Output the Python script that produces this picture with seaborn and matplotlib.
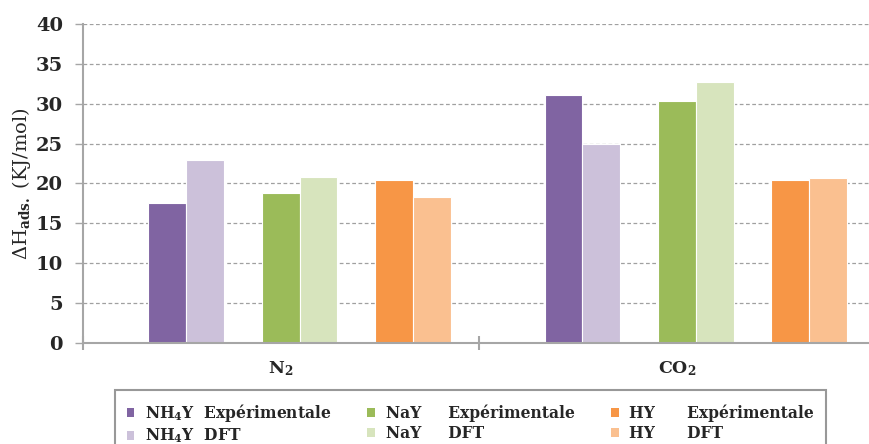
import matplotlib.pyplot as plt
import seaborn as sns
import pandas as pd
import numpy as np
from matplotlib.patches import Patch

# values (kJ/mol)
gases = ["N$_2$", "CO$_2$"]
nh4y_exp = [17.6, 31.1]
nh4y_dft = [23.0, 25.0]
nay_exp = [18.8, 30.3]
nay_dft = [20.8, 32.7]
hy_exp = [20.4, 20.4]
hy_dft = [18.3, 20.7]

series = ["NH$_4$Y  Expérimentale", "NH$_4$Y  DFT",
          "NaY     Expérimentale", "NaY     DFT",
          "HY      Expérimentale", "HY      DFT"]
colors = ["#8064A2", "#CCC1DA", "#9BBB59", "#D7E4BD", "#F79646", "#FAC090"]

# empty spacer slots, like the hidden series in the original
slots = ["gap1", series[0], series[1], "gap2", series[2], series[3], "gap3", series[4], series[5]]
values = {series[0]: nh4y_exp, series[1]: nh4y_dft,
          series[2]: nay_exp, series[3]: nay_dft,
          series[4]: hy_exp, series[5]: hy_dft,
          "gap1": [np.nan, np.nan], "gap2": [np.nan, np.nan], "gap3": [np.nan, np.nan]}

rows = []
for s in slots:
    for g, v in zip(gases, values[s]):
        rows.append({"gas": g, "serie": s, "val": v})
df = pd.DataFrame(rows)

palette = {s: "white" for s in slots}
palette.update(dict(zip(series, colors)))

sns.set_style("white")
plt.rcParams["font.family"] = "DejaVu Serif"
plt.rcParams["font.weight"] = "bold"
plt.rcParams["mathtext.fontset"] = "custom"
plt.rcParams["mathtext.rm"] = "DejaVu Serif:bold"
plt.rcParams["mathtext.it"] = "DejaVu Serif:bold"
plt.rcParams["mathtext.bf"] = "DejaVu Serif:bold"

fig = plt.figure(figsize=(8.69, 4.44), dpi=100)
ax = fig.add_axes([82.5 / 869, 101 / 444, 792.5 / 869, 319 / 444])

sns.barplot(data=df, x="gas", y="val", hue="serie", hue_order=slots, order=gases,
            palette=palette, saturation=1, width=0.858, edgecolor="white",
            linewidth=0.8, errorbar=None, legend=False, ax=ax)

ax.set_xlim(-0.5, 1.5)
ax.set_ylim(0, 40)
ax.set_yticks(range(0, 41, 5))
ax.yaxis.grid(True, linestyle=(0, (3, 2)), color="#a0a0a0", linewidth=0.9)
ax.set_axisbelow(True)

for side in ["top", "right"]:
    ax.spines[side].set_visible(False)
for side in ["left", "bottom"]:
    ax.spines[side].set_color("#a6a6a6")
    ax.spines[side].set_linewidth(1.5)

ax.tick_params(axis="y", left=True, length=6, width=1, color="#a6a6a6",
               labelsize=14, pad=8)
ax.tick_params(axis="x", which="major", length=0, labelsize=12.5, pad=12)
ax.set_xticks([-0.5, 0.5, 1.5], minor=True)
ax.tick_params(axis="x", which="minor", bottom=True, direction="inout",
               length=10, width=1.5, color="#a6a6a6")

ax.set_xlabel("")
ax.set_ylabel("ΔH$_{\\mathrm{ads.}}$ (KJ/mol)", fontsize=14, labelpad=2)

handles = [Patch(facecolor=c, edgecolor="none") for c in colors]
leg = fig.legend(handles, series, ncol=3, loc="upper left",
                 bbox_to_anchor=(115 / 869, 1 - 390 / 444), borderaxespad=0,
                 fontsize=11.2, frameon=True, fancybox=False,
                 handlelength=0.5, handleheight=0.5, handletextpad=0.7,
                 columnspacing=2.3, labelspacing=0.2, borderpad=0.75)
leg.get_frame().set_edgecolor("#7f7f7f")
leg.get_frame().set_linewidth(1.5)

plt.savefig("out.png", dpi=100)
